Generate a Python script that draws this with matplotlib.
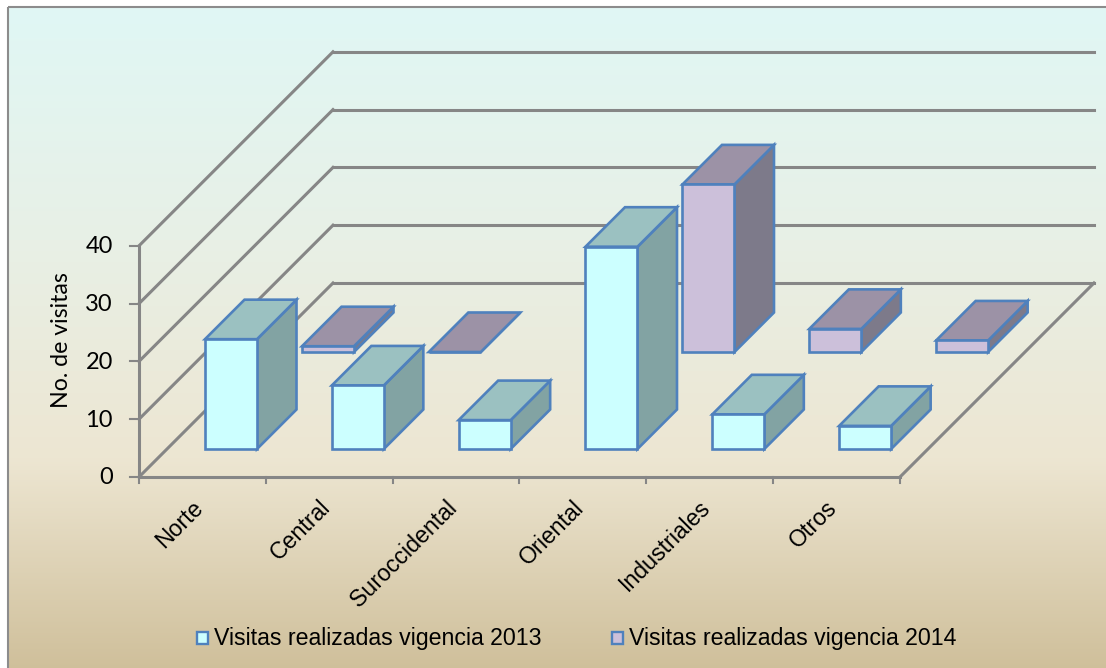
import numpy as np
import matplotlib
matplotlib.use("Agg")
import matplotlib.pyplot as plt
from matplotlib.colors import LinearSegmentedColormap
from matplotlib.patches import Polygon, Rectangle

categories = ["Norte", "Central", "Suroccidental", "Oriental", "Industriales", "Otros"]
visitas_2013 = [19, 11, 5, 35, 6, 4]
visitas_2014 = [1, 0, None, 29, 4, 2]
y_ticks = [0, 10, 20, 30, 40]
series_names = ["Visitas realizadas vigencia 2013", "Visitas realizadas vigencia 2014"]
y_label = "No. de visitas"

plt.rcParams["font.family"] = ["Liberation Sans", "DejaVu Sans"]
W, H = 1106, 668
FS = 16.65
FS_TICK = 17.0
FS_LABEL = 16.7
fig = plt.figure(figsize=(W / 100, H / 100), dpi=100, facecolor="white")
ax = fig.add_axes([0, 0, 1, 1])
ax.set_xlim(0, W)
ax.set_ylim(H, 0)
ax.axis("off")

# background gradient
cmap = LinearSegmentedColormap.from_list(
    "bg", [(0, "#E0F7F5"), (0.35, "#E8F0E6"), (0.68, "#EDE6D2"), (1, "#CFBF9A")])
L, T, R, B = 7.5, 7, 1110, 672
ax.imshow(np.linspace(0, 1, 256)[:, None], cmap=cmap, aspect="auto",
          extent=(L, R, B, T), zorder=0)
ax.set_xlim(0, W)
ax.set_ylim(H, 0)
ax.add_patch(Rectangle((L, T), R - L, B - T, fill=False, ec="#8C8C8C", lw=1.5, zorder=1))

# oblique projection
X0, Y0 = 139.0, 477.0
STEP = 126.83
UNIT = 5.78
DEPTH = 194.0
GRAY = "#868686"


def proj(cat, val=0.0, depth=0.0):
    """category position, value, depth in pixels -> canvas pixels"""
    return X0 + cat * STEP + depth, Y0 - val * UNIT - depth


def gline(p, q, lw=2.2, z=2):
    ax.plot([p[0], q[0]], [p[1], q[1]], color=GRAY, lw=lw, zorder=z,
            solid_capstyle="projecting")


n = len(categories)
for v in y_ticks:
    gline(proj(0, v), proj(0, v, DEPTH))
    gline(proj(0, v, DEPTH), proj(n, v, DEPTH))
    gline((X0 - 9, proj(0, v)[1]), proj(0, v), lw=1.5)
    ax.text(X0 - 26, proj(0, v)[1] + 1, str(v), ha="right", va="center",
            fontsize=FS_TICK, family="Lato", color="black")
gline(proj(0, 0), proj(0, y_ticks[-1]))
gline(proj(0, 0), proj(n, 0))
gline(proj(n, 0), proj(n, 0, DEPTH))
for i in range(n + 1):
    x, y = proj(i)
    gline((x, y), (x, y + 6), lw=1.5)

ax.text(61, 340, y_label, rotation=90, ha="center", va="center", fontsize=FS_LABEL, family="Lato")
for i, c in enumerate(categories):
    x, y = proj(i + 0.5)
    ax.text(x - 11, y + 19, c, rotation=45, rotation_mode="anchor", ha="right", va="top", fontsize=FS)

EDGE = "#4F81BD"
BAR_OFF = 38 / STEP
BAR_W = 52 / STEP
BAR_D = 39.5
ROW_D = [28.0, 125.0]
STYLE = [("#CCFFFF", "#9BC1C1", "#82A3A3"), ("#CCC0DA", "#9C92A6", "#7D7A8A")]


def bar(i, val, row, z):
    front, top, side = STYLE[row]
    a, b = i + BAR_OFF, i + BAR_OFF + BAR_W
    d0, d1 = ROW_D[row], ROW_D[row] + BAR_D
    kw = dict(ec=EDGE, lw=1.9, joinstyle="miter", zorder=z)
    ax.add_patch(Polygon([proj(b, 0, d0), proj(b, val, d0), proj(b, val, d1), proj(b, 0, d1)], fc=side, **kw))
    ax.add_patch(Polygon([proj(a, val, d0), proj(b, val, d0), proj(b, val, d1), proj(a, val, d1)], fc=top, **kw))
    ax.add_patch(Polygon([proj(a, 0, d0), proj(b, 0, d0), proj(b, val, d0), proj(a, val, d0)], fc=front, **kw))


for i, v in enumerate(visitas_2014):
    if v is not None:
        bar(i, v, 1, 3 + i * 0.01)
for i, v in enumerate(visitas_2013):
    bar(i, v, 0, 4 + i * 0.01)

# legend
for name, x, fc in zip(series_names, (195, 610), (STYLE[0][0], STYLE[1][0])):
    ax.add_patch(Rectangle((x + 1.5, 632), 11.5, 11.5, fc=fc, ec=EDGE, lw=1.7, zorder=5))
    ax.text(x + 19, 638, name, ha="left", va="center", fontsize=FS, zorder=5)

fig.savefig("out.png", dpi=100)
